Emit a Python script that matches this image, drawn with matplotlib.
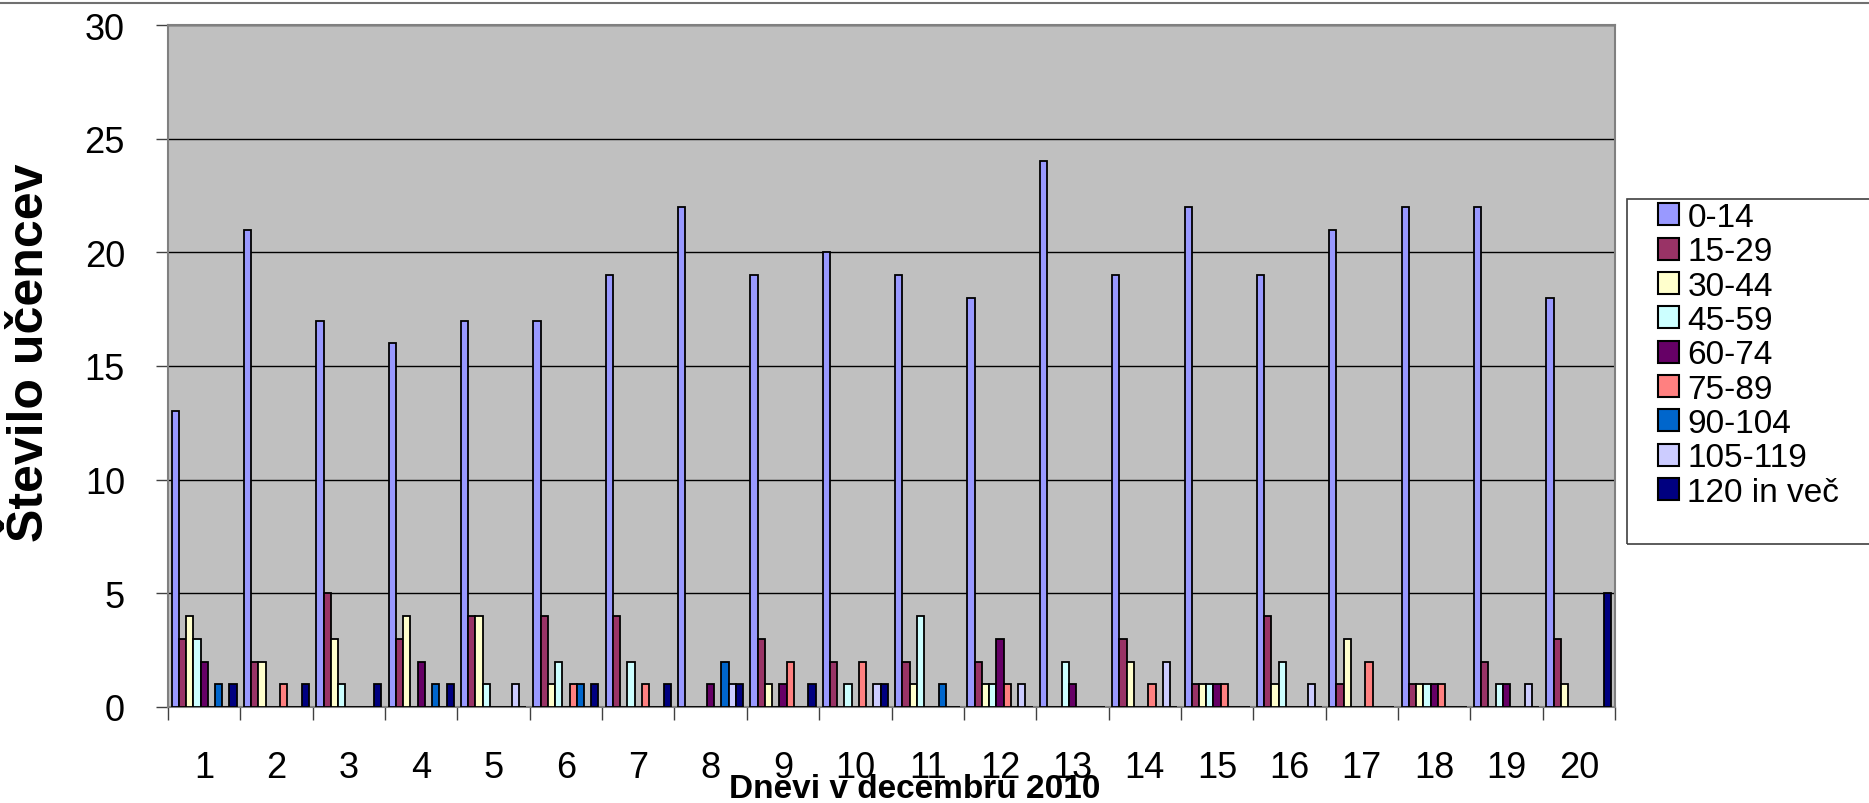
import numpy as np
import matplotlib
matplotlib.use('Agg')
import matplotlib.pyplot as plt
from matplotlib.lines import Line2D
from matplotlib.patches import Rectangle

plt.rcParams['font.family'] = ['Liberation Sans', 'DejaVu Sans']

# Days of December 2010 and number of pupils per age group (minutes)
days = [str(d) for d in range(1, 21)]
groups = ['0-14', '15-29', '30-44', '45-59', '60-74', '75-89',
          '90-104', '105-119', '120 in več']
g_0_14 = [13, 21, 17, 16, 17, 17, 19, 22, 19, 20, 19, 18, 24, 19, 22, 19, 21, 22, 22, 18]
g_15_29 = [3, 2, 5, 3, 4, 4, 4, 0, 3, 2, 2, 2, 0, 3, 1, 4, 1, 1, 2, 3]
g_30_44 = [4, 2, 3, 4, 4, 1, 0, 0, 1, 0, 1, 1, 0, 2, 1, 1, 3, 1, 0, 1]
g_45_59 = [3, 0, 1, 0, 1, 2, 2, 0, 0, 1, 4, 1, 2, 0, 1, 2, 0, 1, 1, 0]
g_60_74 = [2, 0, 0, 2, 0, 0, 0, 1, 1, 0, 0, 3, 1, 0, 1, 0, 0, 1, 1, 0]
g_75_89 = [0, 1, 0, 0, 0, 1, 1, 0, 2, 2, 0, 1, 0, 1, 1, 0, 2, 1, 0, 0]
g_90_104 = [1, 0, 0, 1, 0, 1, 0, 2, 0, 0, 1, 0, 0, 0, 0, 0, 0, 0, 0, 0]
g_105_119 = [0, 0, 0, 0, 1, 0, 0, 1, 0, 1, 0, 1, 0, 2, 0, 1, 0, 0, 1, 0]
g_120 = [1, 1, 1, 1, 0, 1, 1, 1, 1, 1, 0, 0, 0, 0, 0, 0, 0, 0, 0, 5]
series = [g_0_14, g_15_29, g_30_44, g_45_59, g_60_74, g_75_89, g_90_104, g_105_119, g_120]
colors = ['#9999FF', '#993366', '#FFFFCC', '#CCFFFF', '#660066',
          '#FF8080', '#0066CC', '#CCCCFF', '#000080']

W, H = 1869, 804
fig = plt.figure(figsize=(W / 100, H / 100), dpi=100)
ax = fig.add_axes([168 / W, 1 - 708 / H, (1615 - 168) / W, (708 - 26) / H])
ax.set_facecolor('#C0C0C0')

x = np.arange(len(days))
n = len(series)
w = 0.9 / n
for i, (vals, c, name) in enumerate(zip(series, colors, groups)):
    ax.bar(x - 0.45 + w * (i + 0.5), vals, width=w, color=c, edgecolor='black',
           linewidth=1.3, label=name, zorder=3)

ax.set_xlim(-0.5, len(days) - 0.5)
ax.set_ylim(0, 30)
ax.set_yticks(range(0, 31, 5))
ax.yaxis.grid(True, color='black', linewidth=1)
ax.set_axisbelow(True)

ax.set_xticks(x)
ax.set_xticklabels(days)
ax.set_xticks(np.arange(-0.5, len(days)), minor=True)
ax.tick_params(axis='x', which='major', length=0, pad=31, labelsize=26)
ax.tick_params(axis='x', which='minor', length=9, width=1, direction='out', color='#404040')
ax.tick_params(axis='y', length=9, width=1, direction='out', pad=22, labelsize=26, color='#404040')
for s in ax.spines.values():
    s.set_color('#808080')
    s.set_linewidth(1.5)

fig.text(30 / W, 1 - 353 / H, 'Število učencev', rotation=90, fontsize=36,
         fontweight='bold', ha='center', va='center')
fig.text(915 / W, 1 - 790 / H, 'Dnevi v decembru 2010', fontsize=24,
         fontweight='bold', ha='center', va='center')

# legend: entries without frame, frame drawn separately
leg = ax.legend(loc='upper left', bbox_to_anchor=(1658 / W, 1 - 203 / H),
                bbox_transform=fig.transFigure, fontsize=24, frameon=False,
                handlelength=0.64, handleheight=0.64, handletextpad=0.24,
                labelspacing=0.1, borderpad=0, borderaxespad=0)
for h in leg.legend_handles:
    h.set_linewidth(1.5)
fig.add_artist(Rectangle((1627 / W, 1 - 545 / H), (W + 5 - 1627) / W, (545 - 200) / H,
                         transform=fig.transFigure, fill=False, edgecolor='#404040',
                         linewidth=1.2))

fig.add_artist(Line2D([0, 1], [1 - 4 / H, 1 - 4 / H], color='#707070', linewidth=1.5))

fig.savefig('out.png', dpi=100)
